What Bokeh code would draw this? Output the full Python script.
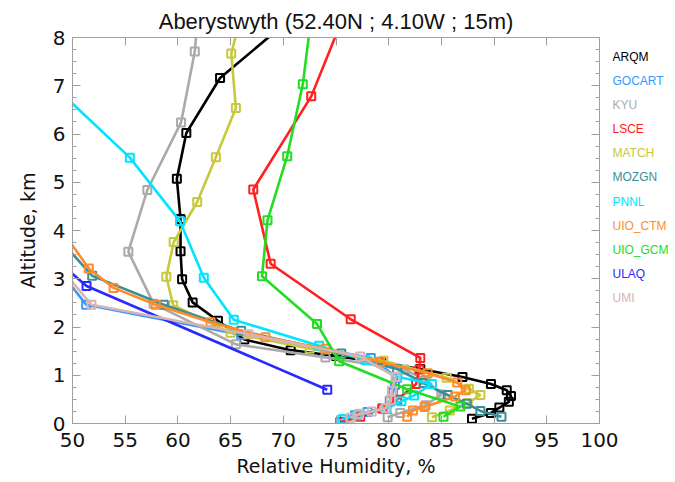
from bokeh.plotting import figure
from bokeh.layouts import row
from bokeh.models import Range1d, FixedTicker, LinearAxis
from bokeh.core.properties import value
from bokeh.embed import file_html
from bokeh.resources import INLINE

# ---- data (RH %, altitude km) ----
models = ["ARQM", "GOCART", "KYU", "LSCE", "MATCH", "MOZGN", "PNNL",
          "UIO_CTM", "UIO_GCM", "ULAQ", "UMI"]
colors = ["#000000", "#3399ff", "#aaaaaa", "#ff2020", "#c8c83c", "#3a8f96",
          "#00e5ff", "#ff8c28", "#22dd22", "#2828ff", "#d8b4b4"]

arqm_rh = [71.3, 64.0, 60.8, 59.9, 60.25, 60.25, 60.4, 61.4, 63.8, 66.3, 70.7,
           75.0, 79.3, 83.0, 87.0, 89.7, 91.2, 91.6, 91.4, 90.5, 89.7, 87.9]
arqm_z = [8.5, 7.16, 6.02, 5.07, 4.24, 3.57, 2.99, 2.51, 2.13, 1.74, 1.52,
          1.40, 1.26, 1.13, 0.965, 0.82, 0.69, 0.57, 0.45, 0.33, 0.22, 0.10]

gocart_rh = [47.5, 51.3, 66.0, 78.3, 80.8, 80.6, 80.4, 80.1, 79.4, 78.0, 76.8, 75.8]
gocart_z = [3.52, 2.46, 1.84, 1.36, 0.95, 0.80, 0.64, 0.47, 0.31, 0.24, 0.17, 0.09]

kyu_rh = [62.0, 61.6, 60.3, 57.1, 55.3, 57.7, 65.5, 74.0, 81.5, 83.5, 85.0, 83.5, 81.1, 79.9]
kyu_z = [8.7, 7.71, 6.24, 4.84, 3.56, 2.48, 1.64, 1.37, 1.12, 0.90, 0.60, 0.38, 0.22, 0.13]

lsce_rh = [76.2, 72.65, 67.15, 68.8, 76.4, 83.0, 82.9, 82.6, 80.8, 79.4, 77.3, 75.4]
lsce_z = [8.7, 6.78, 4.85, 3.31, 2.16, 1.36, 1.12, 0.82, 0.49, 0.31, 0.14, 0.03]

match_rh = [66.2, 65.06, 65.5, 63.6, 61.83, 59.6, 58.9, 59.55, 65.0, 72.5, 79.5,
            85.5, 87.6, 88.7, 87.5, 85.8, 84.1]
match_z = [8.6, 7.67, 6.54, 5.52, 4.59, 3.76, 3.04, 2.45, 1.88, 1.55, 1.30,
           0.95, 0.72, 0.59, 0.42, 0.27, 0.13]

mozgn_rh = [47.5, 51.87, 58.66, 66.0, 75.5, 80.8, 83.3, 85.6, 87.4, 88.7, 90.7]
mozgn_z = [4.13, 3.06, 2.46, 1.92, 1.45, 1.13, 0.84, 0.59, 0.41, 0.26, 0.14]

pnnl_rh = [45.0, 55.44, 60.2, 62.46, 65.3, 73.4, 77.8, 80.8, 84.1, 82.4, 81.2,
           79.8, 77.0, 75.6]
pnnl_z = [7.66, 5.51, 4.19, 3.02, 2.15, 1.61, 1.31, 0.97, 0.82, 0.58, 0.46,
          0.31, 0.17, 0.09]

uioctm_rh = [47.5, 51.55, 53.9, 57.9, 63.1, 68.3, 74.0, 79.2, 83.7, 86.5, 87.3,
             86.3, 83.4, 82.3, 81.75]
uioctm_z = [4.46, 3.21, 2.81, 2.46, 2.10, 1.79, 1.55, 1.28, 1.04, 0.85, 0.69,
            0.56, 0.34, 0.27, 0.14]

uiogcm_rh = [72.75, 71.85, 70.37, 68.5, 67.98, 73.2, 75.3, 81.75, 86.8, 85.2]
uiogcm_z = [8.6, 7.03, 5.54, 4.21, 3.05, 2.06, 1.29, 0.71, 0.35, 0.14]

ulaq_rh = [47.5, 51.33, 74.17]
ulaq_z = [3.57, 2.85, 0.70]

umi_rh = [47.5, 51.8, 66.7, 77.3, 80.65, 80.3, 80.2, 79.7, 78.4, 77.2, 76.4]
umi_z = [3.58, 2.46, 1.85, 1.39, 0.965, 0.68, 0.49, 0.32, 0.25, 0.20, 0.12]

series = [(arqm_rh, arqm_z), (gocart_rh, gocart_z), (kyu_rh, kyu_z),
          (lsce_rh, lsce_z), (match_rh, match_z), (mozgn_rh, mozgn_z),
          (pnnl_rh, pnnl_z), (uioctm_rh, uioctm_z), (uiogcm_rh, uiogcm_z),
          (ulaq_rh, ulaq_z), (umi_rh, umi_z)]

x_ticks = list(range(50, 101, 5))
y_ticks = list(range(0, 9))
y_minor = [i * 0.25 for i in range(0, 33)]

title = "Aberystwyth (52.40N ; 4.10W ; 15m)"
x_label = "Relative Humidity, %"
y_label = "Altitude, km"

TOP, BOTTOM = 37, 59
H = 482

# ---- main figure ----
p = figure(width=630, height=H, output_backend="svg", toolbar_location=None,
           x_range=Range1d(50, 100), y_range=Range1d(0, 8),
           min_border_left=72, min_border_right=31, min_border_top=TOP,
           min_border_bottom=BOTTOM, x_axis_label=x_label, y_axis_label=y_label)
p.grid.visible = False
p.outline_line_color = "#a8a8a8"
p.outline_line_width = 1
p.background_fill_color = "white"
p.border_fill_color = "white"

p.title.text = title
p.title.align = "center"
p.title.text_font = "Liberation Sans"
p.title.text_font_size = "22px"
p.title.text_font_style = "normal"
p.title.text_color = "#111111"
p.title.standoff = 7

AX = "#a0a0a0"
TF = "DejaVu Sans"


def style(ax):
    ax.axis_line_color = AX
    ax.major_tick_line_color = AX
    ax.minor_tick_line_color = AX
    ax.major_tick_in = 8
    ax.major_tick_out = 0
    ax.minor_tick_in = 4
    ax.minor_tick_out = 0
    ax.major_label_text_font = TF
    ax.major_label_text_font_size = "20px"
    ax.major_label_text_color = "#111111"
    ax.axis_label_text_font = TF
    ax.axis_label_text_font_size = "19px"
    ax.axis_label_text_font_style = "normal"
    ax.axis_label_text_color = "#111111"


xa = p.xaxis[0]
xa.ticker = FixedTicker(ticks=x_ticks, minor_ticks=[])
style(xa)
xa.major_label_standoff = 9
xa.axis_label_standoff = 5

ya = p.yaxis[0]
ya.ticker = FixedTicker(ticks=y_ticks, minor_ticks=y_minor)
style(ya)
ya.major_label_standoff = 7
ya.axis_label_standoff = 11

top = LinearAxis(ticker=FixedTicker(ticks=x_ticks, minor_ticks=[]))
style(top)
top.major_label_overrides = {t: "" for t in x_ticks}
top.major_label_standoff = 0
p.add_layout(top, "above")

right = LinearAxis(ticker=FixedTicker(ticks=y_ticks, minor_ticks=y_minor))
style(right)
right.major_label_overrides = {t: "" for t in y_ticks}
right.major_label_standoff = 0
p.add_layout(right, "right")

for (rh, z), c in zip(series, colors):
    p.line(rh, z, line_color=c, line_width=2.6)
    p.scatter(rh, z, marker="square", size=8, fill_color=None,
              line_color=c, line_width=2)

# ---- coloured model names, in a transparent panel overlapping the right border ----
leg = figure(width=63, height=H, output_backend="svg", toolbar_location=None,
             x_range=Range1d(0, 63), y_range=Range1d(0, 8),
             min_border_left=0, min_border_right=0, min_border_top=TOP,
             min_border_bottom=BOTTOM, margin=(0, 0, 0, -18))
leg.axis.visible = False
leg.grid.visible = False
leg.outline_line_color = None
leg.background_fill_color = None
leg.border_fill_color = None
leg_y = [7.6 - 0.5 * i for i in range(len(models))]
leg.text(x=[0] * len(models), y=leg_y, text=models, text_color=colors,
         text_font=value("Liberation Sans"), text_font_size="12px",
         text_baseline="middle", text_align="left")

layout = row(p, leg, spacing=0)
open("out.html", "w").write(file_html(layout, INLINE))
